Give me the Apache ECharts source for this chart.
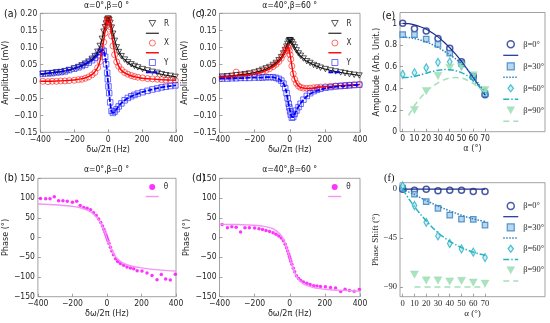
<!DOCTYPE html>
<html><head><meta charset="utf-8">
<script src="https://cdn.jsdelivr.net/npm/echarts@6/dist/echarts.min.js"></script>
<style>html,body{margin:0;padding:0;background:#fff}#c{width:550px;height:323px}</style>
</head><body><div id="c"></div>
<script>
// ---------- data ----------
const F = [-385,-355,-330,-305,-280,-255,-230,-200,-175,-155,-135,-115,-95,-78,-62,-48,-36,-26,-18,-12,-6,-2,2,6,12,20,28,38,50,62,78,97,116,136,155,175,203,232,261,290,315,340,367,396];
const FL = [-400,-350,-300,-250,-200,-160,-130,-100,-80,-60,-45,-30,-20,-10,0,10,20,30,45,60,80,100,130,160,200,250,300,350,400];

// panel (a) alpha=0, beta=0
const Ra = [0.022,0.023,0.024,0.026,0.027,0.030,0.033,0.038,0.042,0.047,0.052,0.058,0.066,0.074,0.087,0.104,0.125,0.146,0.159,0.170,0.180,0.184,0.184,0.180,0.172,0.158,0.140,0.119,0.100,0.086,0.074,0.064,0.056,0.050,0.045,0.041,0.036,0.032,0.028,0.025,0.021,0.018,0.016,0.013];
const Xa = [0.000,-0.001,0.000,0.000,0.001,0.001,0.002,0.003,0.005,0.006,0.009,0.013,0.019,0.026,0.040,0.058,0.083,0.115,0.142,0.163,0.178,0.183,0.182,0.176,0.160,0.133,0.104,0.078,0.057,0.044,0.034,0.026,0.021,0.017,0.014,0.012,0.010,0.008,0.007,0.006,0.005,0.004,0.004,0.003];
const Ya = [0.022,0.023,0.024,0.026,0.027,0.029,0.033,0.037,0.041,0.045,0.049,0.055,0.062,0.069,0.077,0.086,0.093,0.089,0.072,0.050,0.025,0.006,-0.015,-0.035,-0.062,-0.087,-0.093,-0.089,-0.082,-0.074,-0.065,-0.056,-0.049,-0.044,-0.040,-0.036,-0.032,-0.028,-0.024,-0.021,-0.018,-0.016,-0.014,-0.012];
const RaFit = [0.021,0.024,0.027,0.031,0.038,0.045,0.052,0.063,0.073,0.088,0.108,0.138,0.158,0.177,0.185,0.177,0.160,0.138,0.110,0.090,0.073,0.062,0.050,0.042,0.035,0.028,0.022,0.017,0.013];
const XaFit = [0.000,0.000,0.001,0.002,0.004,0.007,0.011,0.018,0.027,0.043,0.066,0.108,0.141,0.172,0.183,0.172,0.141,0.108,0.068,0.046,0.031,0.024,0.017,0.013,0.009,0.007,0.005,0.004,0.003];
const YaFit = [0.021,0.024,0.027,0.031,0.038,0.045,0.052,0.060,0.068,0.078,0.088,0.092,0.078,0.045,-0.005,-0.055,-0.088,-0.092,-0.085,-0.075,-0.063,-0.055,-0.046,-0.039,-0.032,-0.025,-0.019,-0.015,-0.012];

// panel (c) alpha=40, beta=60
const Rc = [0.014,0.015,0.016,0.018,0.019,0.021,0.023,0.026,0.030,0.034,0.038,0.042,0.048,0.054,0.062,0.071,0.082,0.092,0.102,0.110,0.117,0.121,0.121,0.119,0.115,0.108,0.100,0.091,0.082,0.075,0.067,0.059,0.054,0.048,0.044,0.040,0.036,0.032,0.029,0.026,0.024,0.021,0.019,0.017];
const Xc = [0.012,0.013,0.014,0.027,0.016,0.018,0.020,0.022,0.025,0.028,0.032,0.037,0.043,0.050,0.058,0.068,0.079,0.089,0.097,0.101,0.098,0.090,0.078,0.065,0.045,0.022,0.006,-0.006,-0.014,-0.018,-0.020,-0.021,-0.020,-0.019,-0.018,-0.017,-0.016,-0.015,-0.014,-0.013,-0.012,-0.011,-0.010,-0.009];
const Yc = [0.008,0.008,0.009,0.009,0.010,0.010,0.010,0.011,0.011,0.011,0.012,0.012,0.012,0.010,0.007,0.002,-0.007,-0.020,-0.035,-0.050,-0.066,-0.077,-0.088,-0.098,-0.107,-0.105,-0.096,-0.086,-0.076,-0.066,-0.054,-0.043,-0.035,-0.029,-0.025,-0.022,-0.019,-0.017,-0.015,-0.014,-0.013,-0.012,-0.011,-0.010];
const RcFit = [0.013,0.015,0.018,0.021,0.026,0.031,0.037,0.046,0.053,0.063,0.073,0.088,0.100,0.113,0.121,0.116,0.108,0.098,0.085,0.075,0.066,0.058,0.050,0.043,0.036,0.030,0.025,0.021,0.017];
const XcFit = [0.012,0.014,0.016,0.018,0.022,0.027,0.033,0.041,0.049,0.059,0.070,0.085,0.096,0.101,0.083,0.052,0.022,0.003,-0.011,-0.018,-0.020,-0.021,-0.020,-0.018,-0.016,-0.014,-0.012,-0.011,-0.009];
const YcFit = [0.008,0.009,0.009,0.010,0.011,0.011,0.012,0.012,0.010,0.006,0.000,-0.012,-0.030,-0.058,-0.083,-0.103,-0.105,-0.094,-0.079,-0.066,-0.053,-0.043,-0.033,-0.027,-0.021,-0.017,-0.014,-0.012,-0.010];

// panel (b) phase alpha=0, beta=0
const Pb = [99,98,98,103,93,93,92,89,92,81,76,74,70,63,56,47,38,29,21,14,7,2,-3,-8,-15,-25,-34,-44,-54,-61,-66,-70,-75,-77,-79,-84,-85,-90,-96,-107,-94,-105,-108,-93];
const PbFit = [85,84,83,81,79,76,72,66,60,51,43,31,22,12,-3,-13,-24,-33,-45,-53,-61,-66,-71,-74,-77,-80,-82,-84,-85];

// panel (d) phase alpha=40, beta=60
const Pd = [33,25,27,26,14,25,25,24,22,20,18,15,12,8,4,-1,-8,-17,-26,-34,-42,-48,-54,-60,-68,-78,-87,-97,-104,-109,-113,-116,-119,-122,-123,-124,-125,-127,-128,-137,-131,-134,-136,-132];
const PdFit = [34,33,33,32,31,29,27,23,18,11,3,-10,-22,-36,-51,-66,-80,-91,-103,-111,-118,-122,-126,-129,-131,-133,-134,-135,-136];

// panels (e) and (f)
const alphaPts = [0,10,20,30,40,50,60,70];
const alphaFit = [0,5,10,15,20,25,30,35,40,45,50,55,60,65,70];
const ampB0 = [1.0,0.95,0.93,0.86,0.77,0.645,0.51,0.34];
const ampB30 = [0.895,0.895,0.855,0.805,0.725,0.63,0.51,0.35];
const ampB60 = [0.53,0.545,0.59,0.64,0.645,0.61,0.50,0.37];
const ampB90 = [null,0.20,0.375,0.515,0.59,0.60,0.52,0.385];
const ampFit0 = [1.0,0.997,0.986,0.968,0.945,0.913,0.875,0.828,0.775,0.715,0.648,0.575,0.498,0.42,0.34];
const ampFit30 = [0.872,0.869,0.86,0.846,0.828,0.805,0.778,0.745,0.71,0.672,0.628,0.575,0.51,0.435,0.355];
const ampFit60 = [0.50,0.502,0.51,0.525,0.54,0.555,0.567,0.573,0.572,0.563,0.545,0.515,0.47,0.415,0.35];
const ampFit90 = [null,0.15,0.24,0.31,0.37,0.415,0.45,0.478,0.495,0.50,0.495,0.475,0.445,0.405,0.36];
const phB0 = [0,-1,0,-1.5,-1,-1,-2,-2];
const phB30 = [1,-4.6,-11.4,-17.6,-23.8,-27.5,-27.8,-33];
const phB60 = [3,-15,-30.5,-43,-50,-55,-58,-63];
const phB90 = [null,-78.6,-84,-84,-85,-84.5,-86,-87];
const phFit0 = [0,0,0,0,0,0,0,0,0,0,0,0,0,0,0];
const phFit30 = [0,-2.5,-5,-7.8,-10.5,-13,-15.5,-17.8,-20,-22,-24,-25.8,-27.3,-28.6,-29.7];
const phFit60 = [0,-8.5,-16,-23,-29,-35,-40,-44.3,-48,-51,-53.8,-56,-58,-59.6,-61];
const phFit90 = [null,null,-90,-90,-90,-90,-90,-90,-90,-90,-90,-90,-90,-90,-90];

const ampTicks = [0,0.2,0.4,0.6,0.8,1];
const phaseShiftTicks = [-90,-45,0];
const alphaTicks = [0,10,20,30,40,50,60,70];

// ---------- helpers ----------
const pairs = (xs, ys) => xs.map((x,i)=>[x, ys[i]]).filter(p => p[1] !== null && p[1] !== undefined);
const minus = s => String(s).replace('-', '\u2212');
const SANS = "'Liberation Sans Narrow','DejaVu Sans Condensed','Liberation Sans',Arial,sans-serif";
const SERIF = "'Liberation Serif','Times New Roman',serif";
const TXT = '#262626';
const BOX = '#8a8a8a';
const TRI = 'path://M0,0L10,0L5,9Z';
const SQR = 'path://M0,0L10,0L10,10L0,10Z';
const DIA = 'path://M5,0L10,6.5L5,13L0,6.5Z';
const N = {rf:' ', xf:'  ', yf:'   ', tf:'    ', b0:'     ', b30:'      ', b60:'       ', b90:'        '};

const grids = [
  {left:37, top:13.3, width:139, height:119},
  {left:37, top:178.3, width:139, height:118.4},
  {left:219.5, top:13.3, width:140.5, height:119},
  {left:219.5, top:178.3, width:140.5, height:118.4},
  {left:400, top:12.5, width:145, height:119.2},
  {left:400, top:182.7, width:145, height:114}
].map(g => Object.assign({show:true, borderColor:BOX, borderWidth:0.8, containLabel:false}, g));

function baseAxis(gi, font){
  return {gridIndex:gi, type:'value', axisLine:{show:false, onZero:false}, splitLine:{show:false},
    axisTick:{inside:true, length:3, lineStyle:{color:BOX, width:0.8}},
    axisLabel:{fontSize:8.5, fontFamily:font, color:TXT, margin:3},
    nameLocation:'middle', nameTextStyle:{fontSize:9, fontFamily:font, color:TXT}};
}
function freqX(gi){
  const a = baseAxis(gi, SANS);
  Object.assign(a, {min:-400, max:400, interval:200, name:'\u03b4\u03c9/2\u03c0 (Hz)', nameGap:11});
  a.axisLabel.formatter = v => minus(v);
  return a;
}
function alphaX(gi, font){
  const a = baseAxis(gi, font);
  Object.assign(a, {min:-2.3, max:121, name:'\u03b1 (\u00b0)', nameGap:11});
  a.axisLabel.customValues = alphaTicks;
  a.axisTick.customValues = alphaTicks;
  return a;
}
const yA = (gi) => { const a = baseAxis(gi, SANS); Object.assign(a,{min:-0.15, max:0.2, interval:0.05, name:'Amplitude (mV)', nameGap:gi===0?24:21}); a.axisLabel.formatter = v => Math.abs(v)<1e-9 ? '0' : minus(v.toFixed(2)); return a; };
const yP = (gi) => { const a = baseAxis(gi, SANS); Object.assign(a,{min:-150, max:150, interval:50, name:'Phase (\u00b0)', nameGap:gi===1?23:21}); a.axisLabel.formatter = v => minus(v); return a; };
const yE = (() => { const a = baseAxis(4, SANS); Object.assign(a,{min:0, max:1.1, name:'Amplitude (Arb. Unit.)', nameGap:11}); a.axisLabel.customValues = ampTicks; a.axisTick.customValues = ampTicks; return a; })();
const yF = (() => { const a = baseAxis(5, SERIF); Object.assign(a,{min:-99, max:6, name:'Phase Shift (\u00b0)', nameGap:14}); a.axisLabel.customValues = phaseShiftTicks; a.axisTick.customValues = phaseShiftTicks; a.axisLabel.formatter = v => minus(v); return a; })();

const xAxes = [freqX(0), freqX(1), freqX(2), freqX(3), alphaX(4, SANS), alphaX(5, SERIF)];
const yAxes = [yA(0), yP(1), yA(2), yP(3), yE, yF];

function sc(name, gi, data, symbol, size, fill, border, bw){
  return {type:'scatter', name, xAxisIndex:gi, yAxisIndex:gi, data, symbol, symbolSize:size, symbolKeepAspect:true,
    itemStyle:{color:fill, borderColor:border, borderWidth:bw}, silent:true, animation:false};
}
function ln(name, gi, data, color, width, type, smooth){
  return {type:'line', name, xAxisIndex:gi, yAxisIndex:gi, data, symbol:'none', smooth:smooth===undefined?0.3:smooth,
    lineStyle:{color, width, type:type||'solid'}, itemStyle:{color:'rgba(0,0,0,0)', borderWidth:0, borderColor:'rgba(0,0,0,0)'}, silent:true, animation:false};
}
const T = 'rgba(0,0,0,0)';
const C0 = '#1d2e8e', C30 = '#3080c2', C60 = '#27b2c4', C90 = '#96dbaf';
const MAG = '#ff00ff', MAGL = '#f395f3';

const series = [];
[[0, Ra, Xa, Ya, RaFit, XaFit, YaFit],[2, Rc, Xc, Yc, RcFit, XcFit, YcFit]].forEach(([gi,R,X,Y,RF,XF,YF]) => {
  series.push(sc('R', gi, pairs(F,R), TRI, [6,6], T, '#000', 0.8));
  series.push(ln(N.rf, gi, pairs(FL,RF), '#111', 1.1));
  series.push(sc('X', gi, pairs(F,X), 'circle', 6, T, '#ff1a1a', 0.8));
  series.push(ln(N.xf, gi, pairs(FL,XF), '#ff0000', 1.4));
  series.push(sc('Y', gi, pairs(F,Y), SQR, [5.5,5.5], T, '#1a1aff', 0.8));
  series.push(ln(N.yf, gi, pairs(FL,YF), '#0000ff', 1.8, [5,1.5]));
});
[[1, Pb, PbFit],[3, Pd, PdFit]].forEach(([gi,P,PF]) => {
  series.push(sc('\u03b8', gi, pairs(F,P), 'circle', 3.5, MAG, MAG, 0));
  series.push(ln(N.tf, gi, pairs(FL,PF), MAGL, 1.4));
});
[[4, [ampB0,ampB30,ampB60,ampB90], [ampFit0,ampFit30,ampFit60,ampFit90]],
 [5, [phB0,phB30,phB60,phB90], [phFit0,phFit30,phFit60,phFit90]]].forEach(([gi,D,L]) => {
  series.push(sc('\u03b2=0\u00b0', gi, pairs(alphaPts,D[0]), 'circle', 6, T, C0, 1.5));
  series.push(ln(N.b0, gi, pairs(alphaFit,L[0]), C0, 1.2));
  series.push(sc('\u03b2=30\u00b0', gi, pairs(alphaPts,D[1]), SQR, [5.5,5.5], '#a9cdea', C30, 1.2));
  series.push(ln(N.b30, gi, pairs(alphaFit,L[1]), C30, 1.5, [1.5,1.5]));
  series.push(sc('\u03b2=60\u00b0', gi, pairs(alphaPts,D[2]), DIA, [6,8], '#c4ecf2', C60, 1.2));
  series.push(ln(N.b60, gi, pairs(alphaFit,L[2]), C60, 1.5, [6,2,1.5,2]));
  series.push(sc('\u03b2=90\u00b0', gi, pairs(alphaPts,D[3]), TRI, [8,8], C90, C90, 0.5));
  series.push(ln(N.b90, gi, pairs(alphaFit,L[3]), '#a3e0b9', 1.5, [6,4]));
});

function legend(left, top, data, h, gap, font){
  return {left, top, orient:'vertical', data, itemWidth: h===7?15:13, itemHeight:h, itemGap:gap, selectedMode:false,
    symbolKeepAspect:true,
    textStyle:{fontSize:h===7?8.5:8, lineHeight:h, color:TXT, fontFamily:font||SANS, padding:0},
    itemStyle:{borderWidth:'inherit'}, lineStyle:{width:'inherit'}, padding:0};
}
const legends = [
  legend(145, 19.5, ['R', N.rf, 'X', N.xf, 'Y', N.yf], 6, 1.75),
  legend(327.5, 19.5, ['R', N.rf, 'X', N.xf, 'Y', N.yf], 6, 1.75),
  legend(145, 183, ['\u03b8', N.tf], 6, 1.5),
  legend(327.5, 183, ['\u03b8', N.tf], 6, 1.5),
  legend(502.5, 39.8, ['\u03b2=0\u00b0', N.b0, '\u03b2=30\u00b0', N.b30, '\u03b2=60\u00b0', N.b60, '\u03b2=90\u00b0', N.b90], 7, 2, SERIF),
  legend(502.5, 201.5, ['\u03b2=0\u00b0', N.b0, '\u03b2=30\u00b0', N.b30, '\u03b2=60\u00b0', N.b60, '\u03b2=90\u00b0', N.b90], 7, 1.7, SERIF)
];

const txt = (x, y, text, size, align, font) => ({type:'text', x, y, silent:true,
  style:{text, fontSize:size, fontFamily:font||SANS, fill:'#111', align:align||'left', verticalAlign:'middle'}});
const graphic = [
  txt(4, 14, '(a)', 10.5), txt(192, 14, '(c)', 10.5), txt(382, 16, '(e)', 10.5),
  txt(4, 178, '(b)', 10.5), txt(192, 178, '(d)', 10.5), txt(384, 178, '(f)', 10.5, 'left', SERIF),
  txt(106.5, 5.5, '\u03b1=0\u00b0,\u03b2=0 \u00b0', 8.5, 'center'),
  txt(289.7, 5.5, '\u03b1=40\u00b0,\u03b2=60 \u00b0', 8.5, 'center'),
  txt(106.5, 170, '\u03b1=0\u00b0,\u03b2=0 \u00b0', 8.5, 'center'),
  txt(289.7, 170, '\u03b1=40\u00b0,\u03b2=60 \u00b0', 8.5, 'center')
];

const chart = echarts.init(document.getElementById('c'), null, {renderer:'canvas'});
chart.setOption({animation:false, backgroundColor:'#fff', grid:grids, xAxis:xAxes, yAxis:yAxes, series, legend:legends, graphic});
</script></body></html>
